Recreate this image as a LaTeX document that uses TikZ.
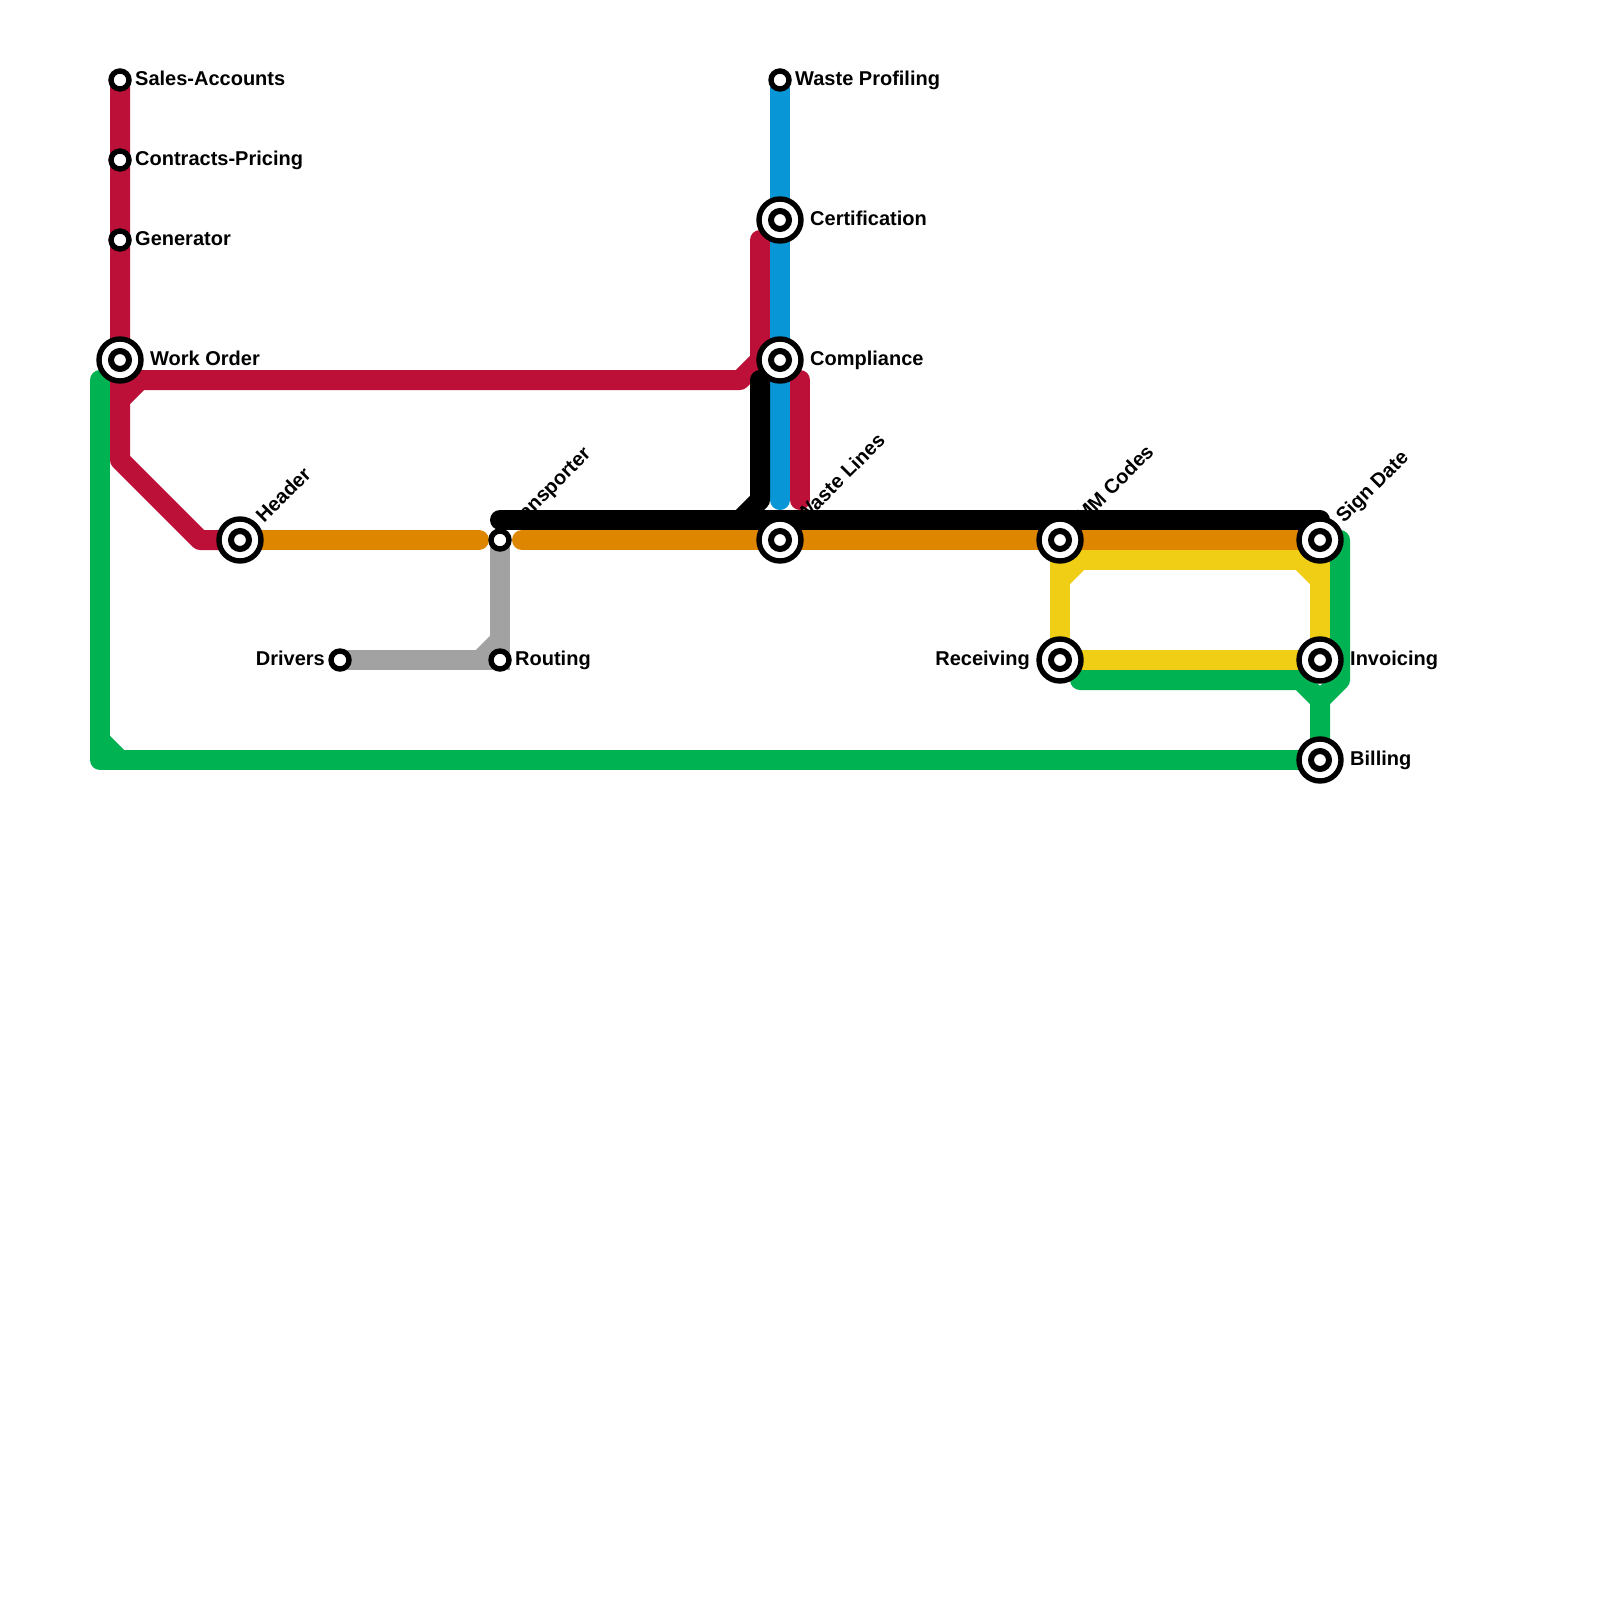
\documentclass[tikz,border=0pt]{standalone}
\usepackage{fontspec}
\setmainfont{Liberation Sans}
\pgfdeclarelayer{lines}
\pgfsetlayers{lines,main}
\definecolor{cred}{HTML}{BD1038}
\definecolor{cgreen}{HTML}{00B251}
\definecolor{corange}{HTML}{DF8600}
\definecolor{cyellow}{HTML}{F0CE15}
\definecolor{cgray}{HTML}{A2A2A2}
\definecolor{cblue}{HTML}{0896D7}
\tikzset{
  route/.style={line width=20pt,line cap=round,line join=round},
  smallst/.style={circle,draw=black,fill=white,line width=5.4pt,minimum size=18pt,inner sep=0pt},
  bigst/.style={circle,draw=black,fill=white,line width=5.4pt,minimum size=42pt,inner sep=0pt,
    path picture={\draw[black,line width=6pt] (path picture bounding box.center) circle (9pt);}},
  lab/.style={font=\bfseries\fontsize{20pt}{24pt}\selectfont,text=black,inner sep=0pt},
  labr/.style={lab,anchor=base west},
  labl/.style={lab,anchor=base east},
  labd/.style={lab,anchor=base west,rotate=45},
}
\begin{document}
\begin{tikzpicture}[x=1pt,y=-1pt]
\useasboundingbox (0,0) rectangle (1600,1600);
% stations
\node[smallst] (sales) at (120,80) {};
\node[smallst] (contracts) at (120,160) {};
\node[smallst] (generator) at (120,240) {};
\node[bigst] (workorder) at (120,360) {};
\node[bigst] (header) at (240,540) {};
\node[smallst] (transporter) at (500,540) {};
\node[smallst] (drivers) at (340,660) {};
\node[smallst] (routing) at (500,660) {};
\node[smallst] (profiling) at (780,80) {};
\node[bigst] (certification) at (780,220) {};
\node[bigst] (compliance) at (780,360) {};
\node[bigst] (wastelines) at (780,540) {};
\node[bigst] (mmcodes) at (1060,540) {};
\node[bigst] (signdate) at (1320,540) {};
\node[bigst] (receiving) at (1060,660) {};
\node[bigst] (invoicing) at (1320,660) {};
\node[bigst] (billing) at (1320,760) {};
% free route points
\coordinate (r1) at (120,460);
\coordinate (r2) at (200,540);
\coordinate (r3) at (120,400);
\coordinate (r4) at (140,380);
\coordinate (r5) at (740,380);
\coordinate (r6) at (760,360);
\coordinate (r7) at (760,240);
\coordinate (r8) at (120,380);
\coordinate (r9) at (800,380);
\coordinate (r10) at (800,500);
\coordinate (b1) at (780,500);
\coordinate (k1) at (760,380);
\coordinate (k2) at (760,500);
\coordinate (k3) at (740,520);
\coordinate (k4) at (500,520);
\coordinate (k5) at (1320,520);
\coordinate (o1) at (479,540);
\coordinate (o2) at (522,540);
\coordinate (gy1) at (480,660);
\coordinate (gy2) at (500,640);
\coordinate (y1) at (1060,560);
\coordinate (y2) at (1320,560);
\coordinate (y3) at (1060,580);
\coordinate (y4) at (1080,560);
\coordinate (y5) at (1300,560);
\coordinate (y6) at (1320,580);
\coordinate (g1) at (100,380);
\coordinate (g2) at (100,760);
\coordinate (g3) at (100,740);
\coordinate (g4) at (120,760);
\coordinate (g5) at (1340,540);
\coordinate (g6) at (1340,680);
\coordinate (g7) at (1320,700);
\coordinate (g8) at (1080,680);
\coordinate (g9) at (1300,680);
\begin{pgfonlayer}{lines}
% green
\draw[route,cgreen] (g1) -- (g2) -- (billing.center);
\draw[route,cgreen] (g3) -- (g4);
\draw[route,cgreen] (g5) -- (g6) -- (g7) -- (billing.center);
\draw[route,cgreen] (g8) -- (g9) -- (g7);
% red
\draw[route,cred] (sales.center) -- (r1) -- (r2) -- (header.center);
\draw[route,cred] (r8) -- (r5) -- (r6) -- (r7);
\draw[route,cred] (r3) -- (r4);
\draw[route,cred] (r9) -- (r10);
% blue
\draw[route,cblue] (profiling.center) -- (b1);
% orange
\draw[route,corange] (header.center) -- (o1);
\draw[route,corange] (o2) -- (signdate.center);
% gray
\draw[route,cgray,line cap=butt,line join=miter] (transporter.center) -- (routing.center) -- (drivers.center);
\draw[route,cgray] (gy1) -- (gy2);
% yellow
\draw[route,cyellow] (receiving.center) -- (y1) -- (y2) -- (invoicing.center) -- cycle;
\draw[route,cyellow] (y3) -- (y4);
\draw[route,cyellow] (y5) -- (y6);
% black
\draw[route,black] (k4) -- (k5);
\draw[route,black] (k1) -- (k2) -- (k3);
\end{pgfonlayer}
% labels
\node[labr] (l1) at (135,85.5) {Sales-Accounts};
\node[labr] (l2) at (135,165) {Contracts-Pricing};
\node[labr] (l3) at (135,245) {Generator};
\node[labr] (l4) at (150,365) {Work Order};
\node[labd] (l5) at (264,524) {Header};
\node[labd] (l6) at (513,534) {Transporter};
\node[labl] (l7) at (325,665) {Drivers};
\node[labr] (l8) at (515,665) {Routing};
\node[labr] (l9) at (795,85.5) {Waste Profiling};
\node[labr] (l10) at (810,225) {Certification};
\node[labr] (l11) at (810,365) {Compliance};
\node[labd] (l12) at (804,524) {Waste Lines};
\node[labd] (l13) at (1084,524) {MM Codes};
\node[labd] (l14) at (1344,524) {Sign Date};
\node[labl] (l15) at (1030,665) {Receiving};
\node[labr] (l16) at (1350,665) {Invoicing};
\node[labr] (l17) at (1350,765) {Billing};
\end{tikzpicture}
\end{document}
